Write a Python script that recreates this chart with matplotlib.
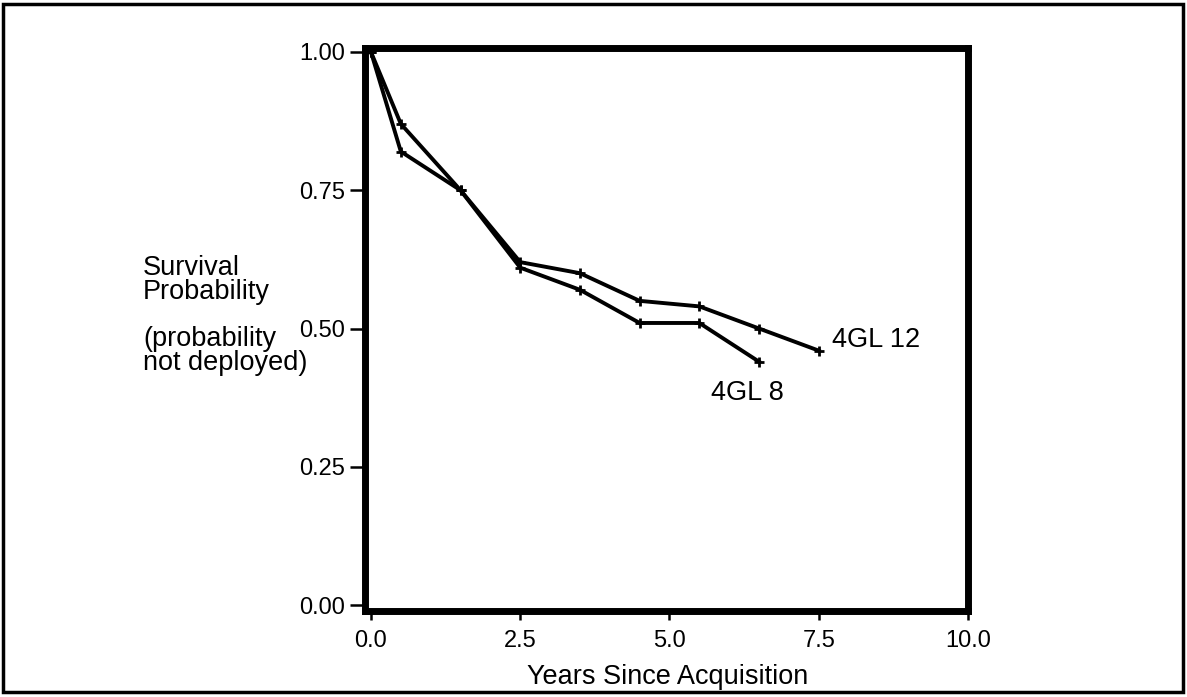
import matplotlib
matplotlib.use("Agg")
import matplotlib.pyplot as plt
from matplotlib.patches import Rectangle

plt.rcParams['font.family'] = ['Liberation Sans', 'DejaVu Sans']

years_12 = [0.0, 0.5, 1.5, 2.5, 3.5, 4.5, 5.5, 6.5, 7.5]
surv_12 = [1.00, 0.87, 0.75, 0.62, 0.60, 0.55, 0.54, 0.50, 0.46]
years_8 = [0.0, 0.5, 1.5, 2.5, 3.5, 4.5, 5.5, 6.5]
surv_8 = [1.00, 0.82, 0.75, 0.61, 0.57, 0.51, 0.51, 0.44]
x_ticks = [0.0, 2.5, 5.0, 7.5, 10.0]
y_ticks = [0.00, 0.25, 0.50, 0.75, 1.00]
side_lines = ["Survival", "Probability", "(probability", "not deployed)"]

W, H = 1187, 697
fig = plt.figure(figsize=(W / 100, H / 100), dpi=100)
ax = fig.add_axes([365 / W, 1 - 611 / H, (968 - 365) / W, (611 - 48) / H])

for xs, ys in [(years_12, surv_12), (years_8, surv_8)]:
    ax.plot(xs, ys, color='black', lw=2.8, marker='+', ms=7, mew=2)

ax.set_xlim(-0.1, 10.0)
ax.set_ylim(-0.0108, 1.0072)
ax.set_xticks(x_ticks)
ax.set_xticklabels([f"{v:.1f}" for v in x_ticks])
ax.set_yticks(y_ticks)
ax.set_yticklabels([f"{v:.2f}" for v in y_ticks])
for s in ax.spines.values():
    s.set_linewidth(5)
ax.tick_params(axis='both', direction='out', width=1.8, labelsize=17,
               colors='black')
ax.tick_params(axis='y', length=10.5, pad=4)
ax.tick_params(axis='x', length=6.5, pad=7)

fig.text(668 / W, 1 - 684 / H, "Years Since Acquisition", fontsize=19.5,
         ha='center', va='baseline')

ax.text(7.72, 0.4665, "4GL 12", fontsize=19.5, va='baseline', ha='left')
ax.text(5.70, 0.371, "4GL 8", fontsize=19.5, va='baseline', ha='left')

for txt, base in zip(side_lines, [275, 299, 346, 370]):
    fig.text(143 / W, 1 - base / H, txt, fontsize=19.5, ha='left',
             va='baseline')

fig.patches.append(Rectangle((3 / W, 1 - 692 / H), 1180 / W, 688 / H,
                             transform=fig.transFigure, fill=False,
                             edgecolor='black', lw=2.5))

fig.savefig("out.png", dpi=100)
